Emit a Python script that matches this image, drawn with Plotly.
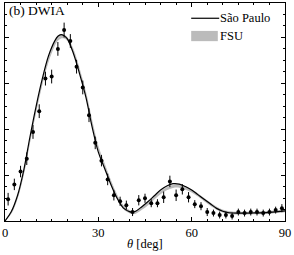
import plotly.graph_objects as go

# ---- data ----
theta_data = [1, 3, 5, 7, 9, 11, 13, 15, 17, 19, 21, 23, 25, 27, 29, 31, 33, 35, 37, 39,
              41, 43, 45, 47, 49, 51, 53, 55, 57, 59, 61, 63, 65, 67, 69, 71, 73, 75, 77, 79,
              81, 83, 85, 87, 89]
xs_data = [1.90, 3.19, 4.31, 5.43, 7.76, 9.57, 12.41, 12.59, 15.0, 16.64, 15.69, 13.45, 11.64,
           9.22, 6.81, 5.26, 3.62, 2.24, 1.72, 1.38, 0.78, 1.81, 1.98, 1.55, 1.55, 2.07, 3.45,
           2.24, 2.76, 2.07, 1.47, 1.29, 0.78, 0.69, 0.52, 0.52, 0.43, 0.78, 0.69, 0.78, 0.78,
           0.69, 0.78, 0.95, 1.12]
xs_err = [0.55, 0.5, 0.5, 0.55, 0.6, 0.6, 0.6, 0.6, 0.6, 0.65, 0.6, 0.6, 0.6, 0.6, 0.55, 0.5,
          0.5, 0.45, 0.4, 0.4, 0.35, 0.45, 0.4, 0.35, 0.35, 0.5, 0.5, 0.5, 0.45, 0.45, 0.35,
          0.35, 0.35, 0.3, 0.3, 0.3, 0.3, 0.3, 0.3, 0.3, 0.3, 0.3, 0.3, 0.3, 0.35]

theta_curve = [0, 2, 4, 6, 8, 10, 12, 14, 16, 17, 18, 19, 20, 22, 24, 26, 28, 30, 32, 34, 36,
               38, 40, 41, 42, 44, 46, 48, 50, 52, 54, 56, 58, 60, 62, 64, 66, 68, 70, 72, 75,
               80, 85, 90]
sao_paulo = [0, 0.8, 2.2, 4.4, 7.3, 10.0, 12.4, 14.4, 15.7, 16.1, 16.25, 16.15, 15.9, 14.6,
             12.8, 10.8, 8.2, 6.0, 4.6, 3.2, 2.0, 1.15, 0.82, 0.78, 0.85, 1.25, 1.7, 2.2, 2.7,
             3.05, 3.25, 3.22, 3.0, 2.7, 2.3, 1.9, 1.5, 1.1, 0.85, 0.72, 0.68, 0.7, 0.75, 0.88]
fsu_lo = [0, 0.6, 1.9, 3.95, 6.75, 9.45, 11.85, 13.85, 15.25, 15.7, 15.9, 15.9, 15.7, 14.6,
          12.85, 10.85, 8.35, 6.15, 4.65, 3.2, 1.95, 1.05, 0.68, 0.6, 0.63, 0.98, 1.38, 1.88,
          2.33, 2.68, 2.88, 2.9, 2.73, 2.48, 2.13, 1.73, 1.33, 0.98, 0.75, 0.62, 0.56, 0.58,
          0.64, 0.76]
fsu_hi = [0, 0.8, 2.1, 4.25, 7.05, 9.75, 12.15, 14.15, 15.55, 16.0, 16.2, 16.2, 16.0, 14.9,
          13.15, 11.15, 8.65, 6.45, 4.95, 3.5, 2.25, 1.35, 0.92, 0.84, 0.87, 1.22, 1.62, 2.12,
          2.57, 2.92, 3.12, 3.14, 2.97, 2.72, 2.37, 1.97, 1.57, 1.22, 0.95, 0.82, 0.76, 0.78,
          0.84, 0.96]

x_ticks = [0, 30, 60, 90]
x_ticklabels = ["0", "30", "60", "90"]
legend_names = ["São Paulo", "FSU"]
panel_label = "(b) DWIA"
x_title = "<i>θ</i> [deg]"

SERIF = "Liberation Serif"

fig = go.Figure()

# FSU band
fig.add_trace(go.Scatter(x=theta_curve, y=fsu_lo, mode="lines", line=dict(width=0, color="#bbbbbb"),
                         line_shape="spline", showlegend=False, hoverinfo="skip"))
fig.add_trace(go.Scatter(x=theta_curve, y=fsu_hi, mode="lines", line=dict(width=0.8, color="#bbbbbb"),
                         line_shape="spline", fill="tonexty", fillcolor="#bbbbbb",
                         showlegend=False, hoverinfo="skip"))
# Sao Paulo line
fig.add_trace(go.Scatter(x=theta_curve, y=sao_paulo, mode="lines", line=dict(width=1.2, color="black"),
                         line_shape="spline", showlegend=False))
# data
fig.add_trace(go.Scatter(x=theta_data, y=xs_data, mode="markers",
                         marker=dict(size=4, color="black"),
                         error_y=dict(type="data", array=xs_err, color="black", thickness=1, width=0),
                         showlegend=False))

# manual legend
fig.add_shape(type="line", xref="paper", yref="paper", x0=0.665, x1=0.765, y0=0.93, y1=0.93,
              line=dict(color="black", width=1.2))
fig.add_shape(type="rect", xref="paper", yref="paper", x0=0.665, x1=0.76, y0=0.825, y1=0.872,
              line=dict(width=0), fillcolor="#bbbbbb")
fig.add_annotation(xref="paper", yref="paper", x=0.762, y=0.93, text=legend_names[0],
                   showarrow=False, xanchor="left", yanchor="middle",
                   font=dict(family=SERIF, size=12.5, color="black"))
fig.add_annotation(xref="paper", yref="paper", x=0.762, y=0.85, text=legend_names[1],
                   showarrow=False, xanchor="left", yanchor="middle",
                   font=dict(family=SERIF, size=12.5, color="black"))
fig.add_annotation(xref="paper", yref="paper", x=0.008, y=0.965, text=panel_label,
                   showarrow=False, xanchor="left", yanchor="middle",
                   font=dict(family=SERIF, size=13.5, color="black"))
# x-axis title
fig.add_annotation(xref="paper", yref="paper", x=0.5, y=-0.105, text=x_title,
                   showarrow=False, xanchor="center", yanchor="middle",
                   font=dict(family=SERIF, size=12.5, color="black"))

fig.update_xaxes(range=[0, 90], tickvals=x_ticks, ticktext=x_ticklabels, ticks="inside",
                 ticklen=4, tickcolor="black", showline=True, linecolor="black", linewidth=1,
                 mirror="ticks", showgrid=False, zeroline=False, ticklabeloverflow="allow",
                 ticklabelstandoff=0,
                 minor=dict(dtick=5, ticks="inside", ticklen=2, tickcolor="black", showgrid=False),
                 tickfont=dict(family=SERIF, size=12.5, color="black"))
fig.update_yaxes(range=[0, 19], tick0=0, dtick=4, ticks="inside", ticklen=4, tickcolor="black",
                 showticklabels=False, showline=True, linecolor="black", linewidth=1,
                 mirror="ticks", showgrid=False, zeroline=False,
                 minor=dict(dtick=1, ticks="inside", ticklen=2, tickcolor="black", showgrid=False))

fig.update_layout(width=294, height=255, margin=dict(l=3, r=9, t=2, b=34),
                  paper_bgcolor="white", plot_bgcolor="white", showlegend=False)

fig.write_html("out.html", config={"displayModeBar": False},
               post_script="document.body.style.margin='0';")
